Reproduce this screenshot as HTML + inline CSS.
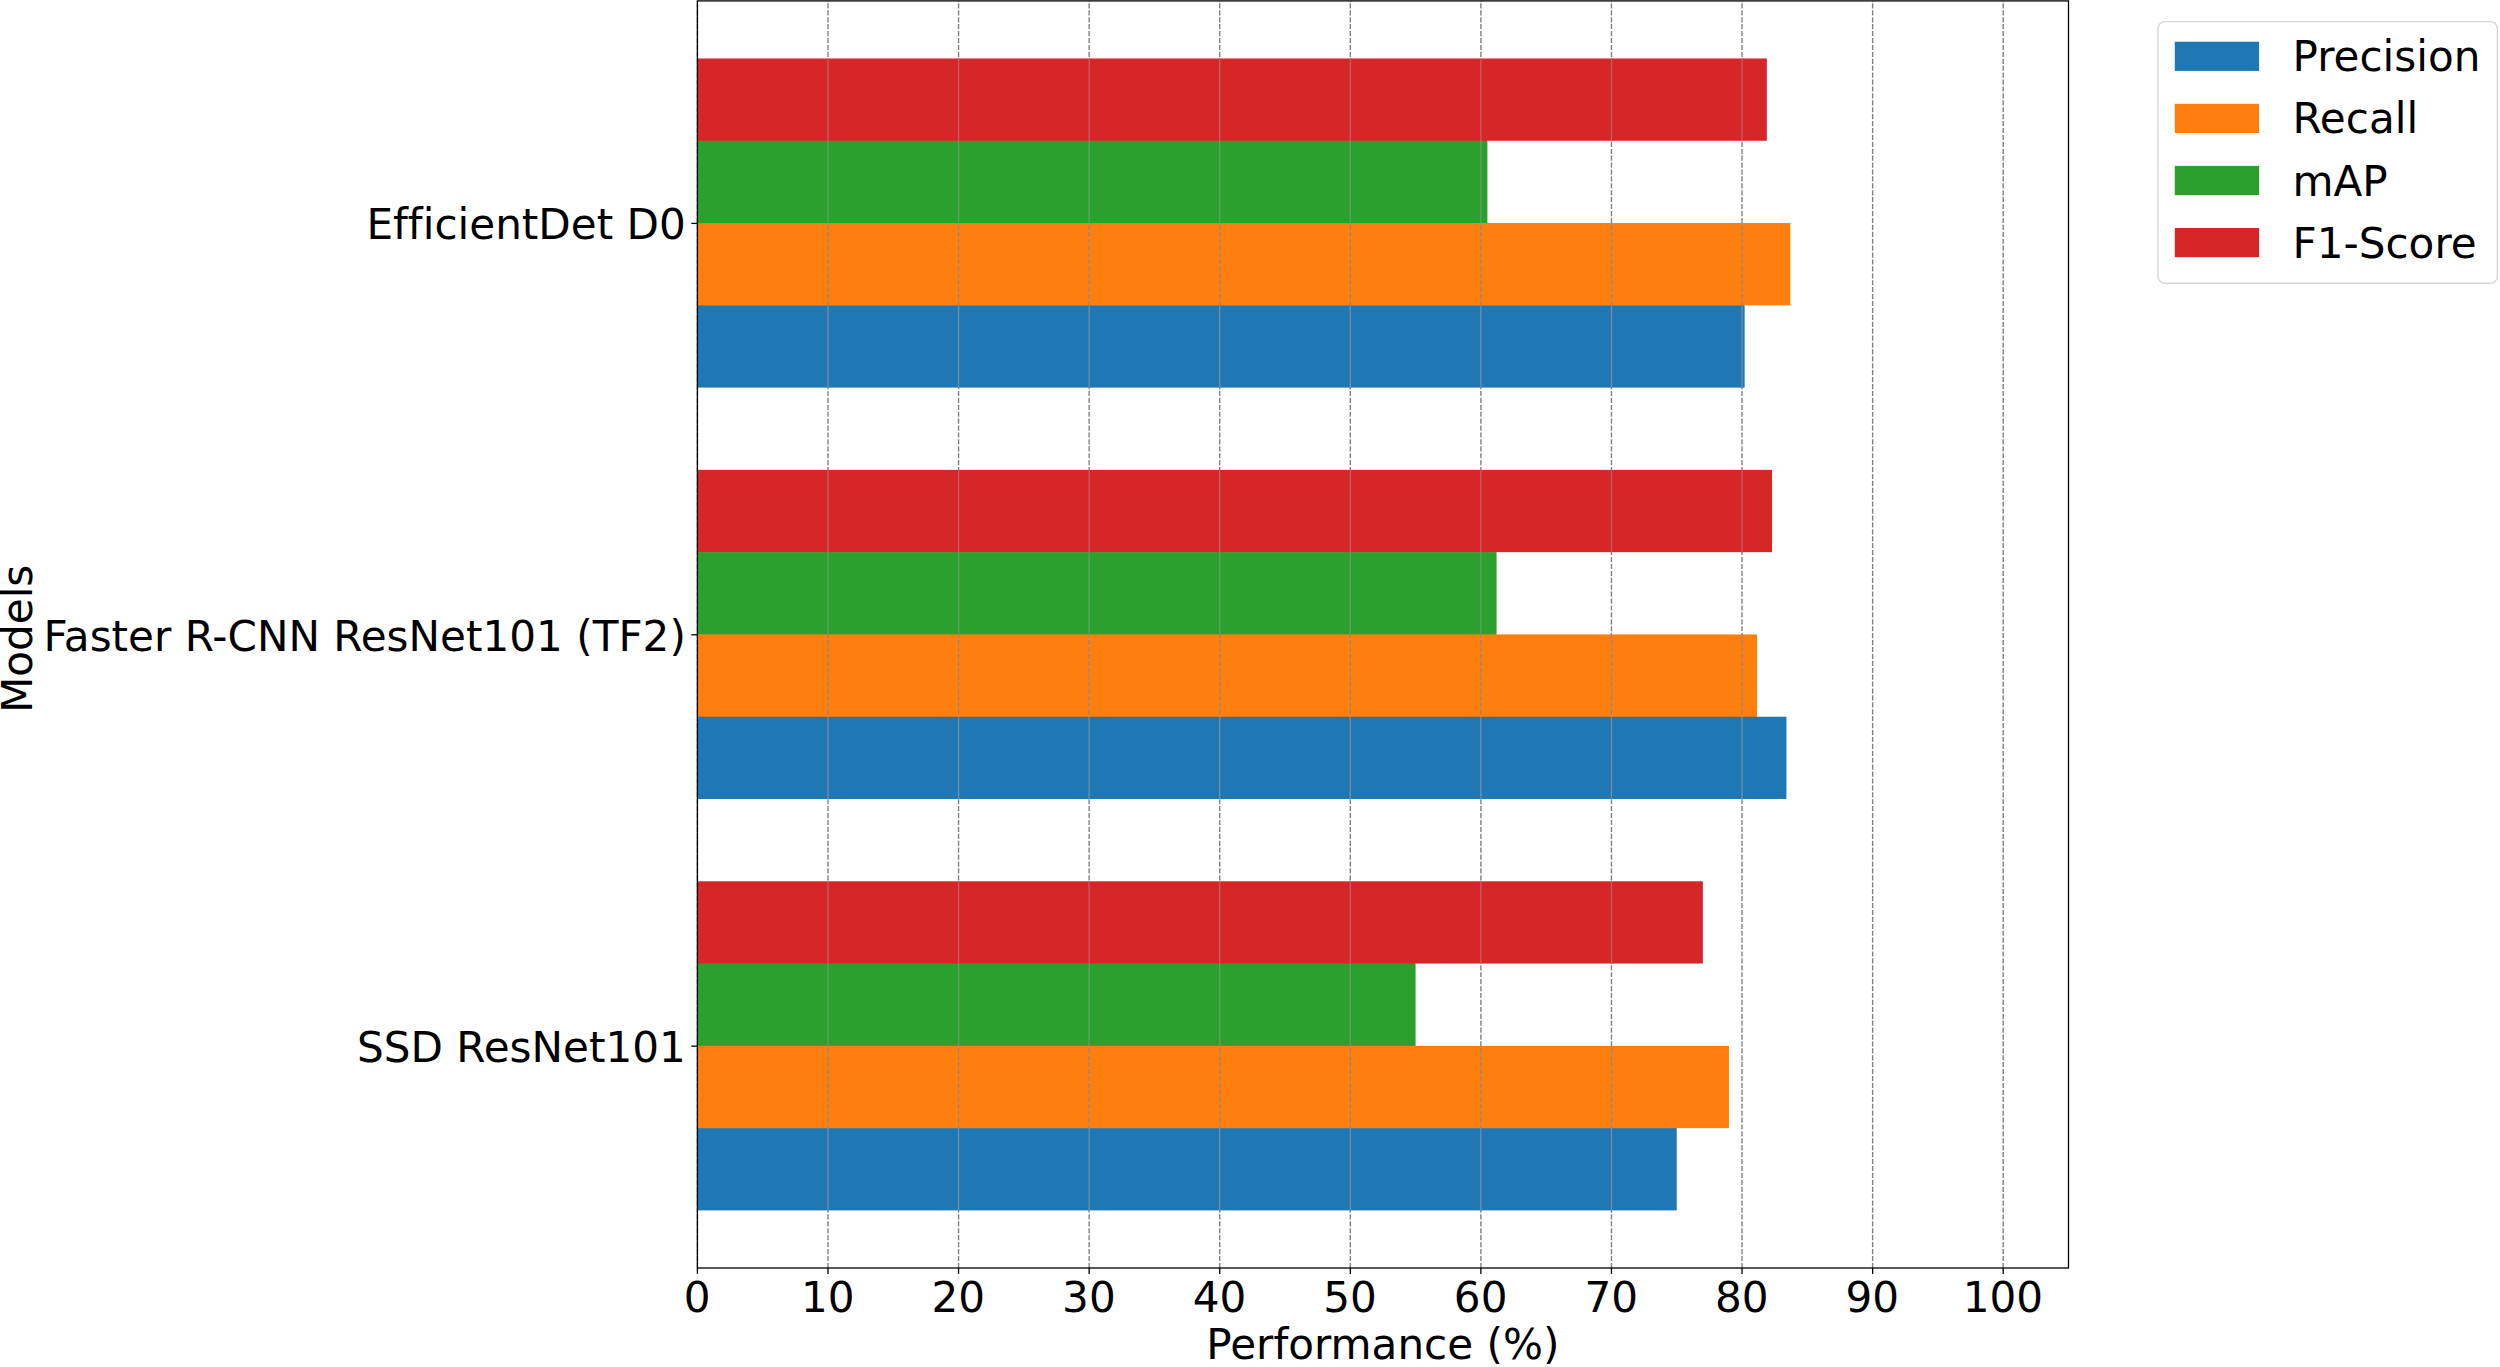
<!DOCTYPE html>
<html lang="en">
<head>
<meta charset="utf-8">
<title>Model performance comparison</title>
<style>
html,body{margin:0;padding:0;background:#fff;}
body{width:2500px;height:1367px;overflow:hidden;}
svg{display:block;}
text{font-family:"DejaVu Sans","Liberation Sans",sans-serif;font-size:41.67px;fill:#000;font-variant-ligatures:none;font-feature-settings:"liga" 0,"clig" 0;}
</style>
</head>
<body>
<svg width="2500" height="1367" viewBox="0 0 2500 1367">
<rect x="0" y="0" width="2500" height="1367" fill="#ffffff"/>

<g stroke="#808080" stroke-width="1.38" stroke-dasharray="5.2 1.72" fill="none">
<line x1="697.40" y1="1268.00" x2="697.40" y2="0.90"/>
<line x1="827.98" y1="1268.00" x2="827.98" y2="0.90"/>
<line x1="958.56" y1="1268.00" x2="958.56" y2="0.90"/>
<line x1="1089.14" y1="1268.00" x2="1089.14" y2="0.90"/>
<line x1="1219.72" y1="1268.00" x2="1219.72" y2="0.90"/>
<line x1="1350.30" y1="1268.00" x2="1350.30" y2="0.90"/>
<line x1="1480.88" y1="1268.00" x2="1480.88" y2="0.90"/>
<line x1="1611.46" y1="1268.00" x2="1611.46" y2="0.90"/>
<line x1="1742.04" y1="1268.00" x2="1742.04" y2="0.90"/>
<line x1="1872.62" y1="1268.00" x2="1872.62" y2="0.90"/>
<line x1="2003.20" y1="1268.00" x2="2003.20" y2="0.90"/>
</g>
<g>
<rect x="697.40" y="1128.12" width="979.35" height="82.28" fill="#1f77b4"/>
<rect x="697.40" y="1127.32" width="978.85" height="1.2" fill="#1f77b4"/>
<rect x="697.40" y="1045.84" width="1031.58" height="82.28" fill="#ff7f0e"/>
<rect x="697.40" y="1045.04" width="717.69" height="1.2" fill="#ff7f0e"/>
<rect x="697.40" y="963.56" width="718.19" height="82.28" fill="#2ca02c"/>
<rect x="697.40" y="962.76" width="717.69" height="1.2" fill="#2ca02c"/>
<rect x="697.40" y="881.28" width="1005.47" height="82.28" fill="#d62728"/>
<rect x="697.40" y="716.72" width="1089.04" height="82.28" fill="#1f77b4"/>
<rect x="697.40" y="715.92" width="1059.16" height="1.2" fill="#1f77b4"/>
<rect x="697.40" y="634.44" width="1059.66" height="82.28" fill="#ff7f0e"/>
<rect x="697.40" y="633.64" width="798.65" height="1.2" fill="#ff7f0e"/>
<rect x="697.40" y="552.16" width="799.15" height="82.28" fill="#2ca02c"/>
<rect x="697.40" y="551.36" width="798.65" height="1.2" fill="#2ca02c"/>
<rect x="697.40" y="469.88" width="1074.67" height="82.28" fill="#d62728"/>
<rect x="697.40" y="305.32" width="1047.25" height="82.28" fill="#1f77b4"/>
<rect x="697.40" y="304.52" width="1046.75" height="1.2" fill="#1f77b4"/>
<rect x="697.40" y="223.04" width="1092.95" height="82.28" fill="#ff7f0e"/>
<rect x="697.40" y="222.24" width="789.51" height="1.2" fill="#ff7f0e"/>
<rect x="697.40" y="140.76" width="790.01" height="82.28" fill="#2ca02c"/>
<rect x="697.40" y="139.96" width="789.51" height="1.2" fill="#2ca02c"/>
<rect x="697.40" y="58.48" width="1069.45" height="82.28" fill="#d62728"/>
</g>
<g stroke="#7390ac" stroke-opacity="0.9" stroke-width="1.38" fill="none">
<line x1="827.98" y1="1210.40" x2="827.98" y2="1128.12" stroke-dashoffset="2.24"/>
<line x1="958.56" y1="1210.40" x2="958.56" y2="1128.12" stroke-dashoffset="2.24"/>
<line x1="1089.14" y1="1210.40" x2="1089.14" y2="1128.12" stroke-dashoffset="2.24"/>
<line x1="1219.72" y1="1210.40" x2="1219.72" y2="1128.12" stroke-dashoffset="2.24"/>
<line x1="1350.30" y1="1210.40" x2="1350.30" y2="1128.12" stroke-dashoffset="2.24"/>
<line x1="1480.88" y1="1210.40" x2="1480.88" y2="1128.12" stroke-dashoffset="2.24"/>
<line x1="1611.46" y1="1210.40" x2="1611.46" y2="1128.12" stroke-dashoffset="2.24"/>
<line x1="827.98" y1="799.00" x2="827.98" y2="716.72" stroke-dashoffset="5.36"/>
<line x1="958.56" y1="799.00" x2="958.56" y2="716.72" stroke-dashoffset="5.36"/>
<line x1="1089.14" y1="799.00" x2="1089.14" y2="716.72" stroke-dashoffset="5.36"/>
<line x1="1219.72" y1="799.00" x2="1219.72" y2="716.72" stroke-dashoffset="5.36"/>
<line x1="1350.30" y1="799.00" x2="1350.30" y2="716.72" stroke-dashoffset="5.36"/>
<line x1="1480.88" y1="799.00" x2="1480.88" y2="716.72" stroke-dashoffset="5.36"/>
<line x1="1611.46" y1="799.00" x2="1611.46" y2="716.72" stroke-dashoffset="5.36"/>
<line x1="1742.04" y1="799.00" x2="1742.04" y2="716.72" stroke-dashoffset="5.36"/>
<line x1="827.98" y1="387.60" x2="827.98" y2="305.32" stroke-dashoffset="1.56"/>
<line x1="958.56" y1="387.60" x2="958.56" y2="305.32" stroke-dashoffset="1.56"/>
<line x1="1089.14" y1="387.60" x2="1089.14" y2="305.32" stroke-dashoffset="1.56"/>
<line x1="1219.72" y1="387.60" x2="1219.72" y2="305.32" stroke-dashoffset="1.56"/>
<line x1="1350.30" y1="387.60" x2="1350.30" y2="305.32" stroke-dashoffset="1.56"/>
<line x1="1480.88" y1="387.60" x2="1480.88" y2="305.32" stroke-dashoffset="1.56"/>
<line x1="1611.46" y1="387.60" x2="1611.46" y2="305.32" stroke-dashoffset="1.56"/>
<line x1="1742.04" y1="387.60" x2="1742.04" y2="305.32" stroke-dashoffset="1.56"/>
</g>
<g stroke="#d88a46" stroke-opacity="0.7" stroke-width="1.38" fill="none">
<line x1="827.98" y1="1128.12" x2="827.98" y2="1045.84"/>
<line x1="958.56" y1="1128.12" x2="958.56" y2="1045.84"/>
<line x1="1089.14" y1="1128.12" x2="1089.14" y2="1045.84"/>
<line x1="1219.72" y1="1128.12" x2="1219.72" y2="1045.84"/>
<line x1="1350.30" y1="1128.12" x2="1350.30" y2="1045.84"/>
<line x1="1480.88" y1="1128.12" x2="1480.88" y2="1045.84"/>
<line x1="1611.46" y1="1128.12" x2="1611.46" y2="1045.84"/>
<line x1="827.98" y1="716.72" x2="827.98" y2="634.44"/>
<line x1="958.56" y1="716.72" x2="958.56" y2="634.44"/>
<line x1="1089.14" y1="716.72" x2="1089.14" y2="634.44"/>
<line x1="1219.72" y1="716.72" x2="1219.72" y2="634.44"/>
<line x1="1350.30" y1="716.72" x2="1350.30" y2="634.44"/>
<line x1="1480.88" y1="716.72" x2="1480.88" y2="634.44"/>
<line x1="1611.46" y1="716.72" x2="1611.46" y2="634.44"/>
<line x1="1742.04" y1="716.72" x2="1742.04" y2="634.44"/>
<line x1="827.98" y1="305.32" x2="827.98" y2="223.04"/>
<line x1="958.56" y1="305.32" x2="958.56" y2="223.04"/>
<line x1="1089.14" y1="305.32" x2="1089.14" y2="223.04"/>
<line x1="1219.72" y1="305.32" x2="1219.72" y2="223.04"/>
<line x1="1350.30" y1="305.32" x2="1350.30" y2="223.04"/>
<line x1="1480.88" y1="305.32" x2="1480.88" y2="223.04"/>
<line x1="1611.46" y1="305.32" x2="1611.46" y2="223.04"/>
<line x1="1742.04" y1="305.32" x2="1742.04" y2="223.04"/>
</g>
<g stroke="#a58264" stroke-width="1.38" stroke-dasharray="5.2 1.72" fill="none">
<line x1="827.98" y1="1128.12" x2="827.98" y2="1045.84" stroke-dashoffset="1.48"/>
<line x1="958.56" y1="1128.12" x2="958.56" y2="1045.84" stroke-dashoffset="1.48"/>
<line x1="1089.14" y1="1128.12" x2="1089.14" y2="1045.84" stroke-dashoffset="1.48"/>
<line x1="1219.72" y1="1128.12" x2="1219.72" y2="1045.84" stroke-dashoffset="1.48"/>
<line x1="1350.30" y1="1128.12" x2="1350.30" y2="1045.84" stroke-dashoffset="1.48"/>
<line x1="1480.88" y1="1128.12" x2="1480.88" y2="1045.84" stroke-dashoffset="1.48"/>
<line x1="1611.46" y1="1128.12" x2="1611.46" y2="1045.84" stroke-dashoffset="1.48"/>
<line x1="827.98" y1="716.72" x2="827.98" y2="634.44" stroke-dashoffset="4.60"/>
<line x1="958.56" y1="716.72" x2="958.56" y2="634.44" stroke-dashoffset="4.60"/>
<line x1="1089.14" y1="716.72" x2="1089.14" y2="634.44" stroke-dashoffset="4.60"/>
<line x1="1219.72" y1="716.72" x2="1219.72" y2="634.44" stroke-dashoffset="4.60"/>
<line x1="1350.30" y1="716.72" x2="1350.30" y2="634.44" stroke-dashoffset="4.60"/>
<line x1="1480.88" y1="716.72" x2="1480.88" y2="634.44" stroke-dashoffset="4.60"/>
<line x1="1611.46" y1="716.72" x2="1611.46" y2="634.44" stroke-dashoffset="4.60"/>
<line x1="1742.04" y1="716.72" x2="1742.04" y2="634.44" stroke-dashoffset="4.60"/>
<line x1="827.98" y1="305.32" x2="827.98" y2="223.04" stroke-dashoffset="0.80"/>
<line x1="958.56" y1="305.32" x2="958.56" y2="223.04" stroke-dashoffset="0.80"/>
<line x1="1089.14" y1="305.32" x2="1089.14" y2="223.04" stroke-dashoffset="0.80"/>
<line x1="1219.72" y1="305.32" x2="1219.72" y2="223.04" stroke-dashoffset="0.80"/>
<line x1="1350.30" y1="305.32" x2="1350.30" y2="223.04" stroke-dashoffset="0.80"/>
<line x1="1480.88" y1="305.32" x2="1480.88" y2="223.04" stroke-dashoffset="0.80"/>
<line x1="1611.46" y1="305.32" x2="1611.46" y2="223.04" stroke-dashoffset="0.80"/>
<line x1="1742.04" y1="305.32" x2="1742.04" y2="223.04" stroke-dashoffset="0.80"/>
</g>
<g stroke="#64a064" stroke-opacity="0.9" stroke-width="1.38" fill="none">
<line x1="827.98" y1="1045.84" x2="827.98" y2="963.56" stroke-dashoffset="0.72"/>
<line x1="958.56" y1="1045.84" x2="958.56" y2="963.56" stroke-dashoffset="0.72"/>
<line x1="1089.14" y1="1045.84" x2="1089.14" y2="963.56" stroke-dashoffset="0.72"/>
<line x1="1219.72" y1="1045.84" x2="1219.72" y2="963.56" stroke-dashoffset="0.72"/>
<line x1="1350.30" y1="1045.84" x2="1350.30" y2="963.56" stroke-dashoffset="0.72"/>
<line x1="827.98" y1="634.44" x2="827.98" y2="552.16" stroke-dashoffset="3.84"/>
<line x1="958.56" y1="634.44" x2="958.56" y2="552.16" stroke-dashoffset="3.84"/>
<line x1="1089.14" y1="634.44" x2="1089.14" y2="552.16" stroke-dashoffset="3.84"/>
<line x1="1219.72" y1="634.44" x2="1219.72" y2="552.16" stroke-dashoffset="3.84"/>
<line x1="1350.30" y1="634.44" x2="1350.30" y2="552.16" stroke-dashoffset="3.84"/>
<line x1="1480.88" y1="634.44" x2="1480.88" y2="552.16" stroke-dashoffset="3.84"/>
<line x1="827.98" y1="223.04" x2="827.98" y2="140.76" stroke-dashoffset="0.04"/>
<line x1="958.56" y1="223.04" x2="958.56" y2="140.76" stroke-dashoffset="0.04"/>
<line x1="1089.14" y1="223.04" x2="1089.14" y2="140.76" stroke-dashoffset="0.04"/>
<line x1="1219.72" y1="223.04" x2="1219.72" y2="140.76" stroke-dashoffset="0.04"/>
<line x1="1350.30" y1="223.04" x2="1350.30" y2="140.76" stroke-dashoffset="0.04"/>
<line x1="1480.88" y1="223.04" x2="1480.88" y2="140.76" stroke-dashoffset="0.04"/>
</g>
<g stroke="#c06464" stroke-opacity="0.9" stroke-width="1.38" fill="none">
<line x1="827.98" y1="963.56" x2="827.98" y2="881.28" stroke-dashoffset="6.88"/>
<line x1="958.56" y1="963.56" x2="958.56" y2="881.28" stroke-dashoffset="6.88"/>
<line x1="1089.14" y1="963.56" x2="1089.14" y2="881.28" stroke-dashoffset="6.88"/>
<line x1="1219.72" y1="963.56" x2="1219.72" y2="881.28" stroke-dashoffset="6.88"/>
<line x1="1350.30" y1="963.56" x2="1350.30" y2="881.28" stroke-dashoffset="6.88"/>
<line x1="1480.88" y1="963.56" x2="1480.88" y2="881.28" stroke-dashoffset="6.88"/>
<line x1="1611.46" y1="963.56" x2="1611.46" y2="881.28" stroke-dashoffset="6.88"/>
<line x1="827.98" y1="552.16" x2="827.98" y2="469.88" stroke-dashoffset="3.08"/>
<line x1="958.56" y1="552.16" x2="958.56" y2="469.88" stroke-dashoffset="3.08"/>
<line x1="1089.14" y1="552.16" x2="1089.14" y2="469.88" stroke-dashoffset="3.08"/>
<line x1="1219.72" y1="552.16" x2="1219.72" y2="469.88" stroke-dashoffset="3.08"/>
<line x1="1350.30" y1="552.16" x2="1350.30" y2="469.88" stroke-dashoffset="3.08"/>
<line x1="1480.88" y1="552.16" x2="1480.88" y2="469.88" stroke-dashoffset="3.08"/>
<line x1="1611.46" y1="552.16" x2="1611.46" y2="469.88" stroke-dashoffset="3.08"/>
<line x1="1742.04" y1="552.16" x2="1742.04" y2="469.88" stroke-dashoffset="3.08"/>
<line x1="827.98" y1="140.76" x2="827.98" y2="58.48" stroke-dashoffset="6.20"/>
<line x1="958.56" y1="140.76" x2="958.56" y2="58.48" stroke-dashoffset="6.20"/>
<line x1="1089.14" y1="140.76" x2="1089.14" y2="58.48" stroke-dashoffset="6.20"/>
<line x1="1219.72" y1="140.76" x2="1219.72" y2="58.48" stroke-dashoffset="6.20"/>
<line x1="1350.30" y1="140.76" x2="1350.30" y2="58.48" stroke-dashoffset="6.20"/>
<line x1="1480.88" y1="140.76" x2="1480.88" y2="58.48" stroke-dashoffset="6.20"/>
<line x1="1611.46" y1="140.76" x2="1611.46" y2="58.48" stroke-dashoffset="6.20"/>
<line x1="1742.04" y1="140.76" x2="1742.04" y2="58.48" stroke-dashoffset="6.20"/>
</g>
<g stroke="#000" stroke-width="1.3" fill="none">
<line x1="697.40" y1="1268.00" x2="697.40" y2="1273.90"/>
<line x1="827.98" y1="1268.00" x2="827.98" y2="1273.90"/>
<line x1="958.56" y1="1268.00" x2="958.56" y2="1273.90"/>
<line x1="1089.14" y1="1268.00" x2="1089.14" y2="1273.90"/>
<line x1="1219.72" y1="1268.00" x2="1219.72" y2="1273.90"/>
<line x1="1350.30" y1="1268.00" x2="1350.30" y2="1273.90"/>
<line x1="1480.88" y1="1268.00" x2="1480.88" y2="1273.90"/>
<line x1="1611.46" y1="1268.00" x2="1611.46" y2="1273.90"/>
<line x1="1742.04" y1="1268.00" x2="1742.04" y2="1273.90"/>
<line x1="1872.62" y1="1268.00" x2="1872.62" y2="1273.90"/>
<line x1="2003.20" y1="1268.00" x2="2003.20" y2="1273.90"/>
<line x1="691.30" y1="1046.19" x2="697.40" y2="1046.19"/>
<line x1="691.30" y1="634.79" x2="697.40" y2="634.79"/>
<line x1="691.30" y1="223.39" x2="697.40" y2="223.39"/>
</g>
<rect x="697.40" y="0.90" width="1371.10" height="1267.10" fill="none" stroke="#000" stroke-width="1.3"/>
<g text-anchor="middle">
<text transform="translate(697.15,1311.50) scale(1.011,1.030)" text-anchor="middle">0</text>
<text transform="translate(827.73,1311.50) scale(1.011,1.030)" text-anchor="middle">10</text>
<text transform="translate(958.31,1311.50) scale(1.011,1.030)" text-anchor="middle">20</text>
<text transform="translate(1088.89,1311.50) scale(1.011,1.030)" text-anchor="middle">30</text>
<text transform="translate(1219.47,1311.50) scale(1.011,1.030)" text-anchor="middle">40</text>
<text transform="translate(1350.05,1311.50) scale(1.011,1.030)" text-anchor="middle">50</text>
<text transform="translate(1480.63,1311.50) scale(1.011,1.030)" text-anchor="middle">60</text>
<text transform="translate(1611.21,1311.50) scale(1.011,1.030)" text-anchor="middle">70</text>
<text transform="translate(1741.79,1311.50) scale(1.011,1.030)" text-anchor="middle">80</text>
<text transform="translate(1872.37,1311.50) scale(1.011,1.030)" text-anchor="middle">90</text>
<text transform="translate(2002.95,1311.50) scale(1.011,1.030)" text-anchor="middle">100</text>
</g>
<text transform="translate(1382.85,1359.20) scale(1.011,1.030)" text-anchor="middle">Performance (%)</text>
<g text-anchor="end">
<text transform="translate(685.85,1062.00) scale(1.011,1.030)" text-anchor="end">SSD ResNet101</text>
<text transform="translate(685.85,650.70) scale(1.011,1.030)" text-anchor="end">Faster R-CNN ResNet101 (TF2)</text>
<text transform="translate(685.85,238.80) scale(1.011,1.030)" text-anchor="end">EfficientDet D0</text>
</g>
<text transform="translate(32.20,638.90) rotate(-90) scale(1.011,1.030)" text-anchor="middle">Models</text>
<rect x="2157.96" y="21.65" width="339.4" height="261.55" rx="7" ry="7" fill="#fff" fill-opacity="0.8" stroke="#cccccc" stroke-opacity="0.8" stroke-width="1.39"/>
<rect x="2174.8" y="41.70" width="84.3" height="29.2" fill="#1f77b4"/>
<text transform="translate(2292.50,71.00) scale(1.011,1.030)">Precision</text>
<rect x="2174.8" y="103.80" width="84.3" height="29.2" fill="#ff7f0e"/>
<text transform="translate(2292.50,133.00) scale(1.011,1.030)">Recall</text>
<rect x="2174.8" y="165.90" width="84.3" height="29.2" fill="#2ca02c"/>
<text transform="translate(2292.50,195.90) scale(1.011,1.030)">mAP</text>
<rect x="2174.8" y="228.00" width="84.3" height="29.2" fill="#d62728"/>
<text transform="translate(2292.50,257.70) scale(1.011,1.030)">F1-Score</text>
</svg>
</body>
</html>
